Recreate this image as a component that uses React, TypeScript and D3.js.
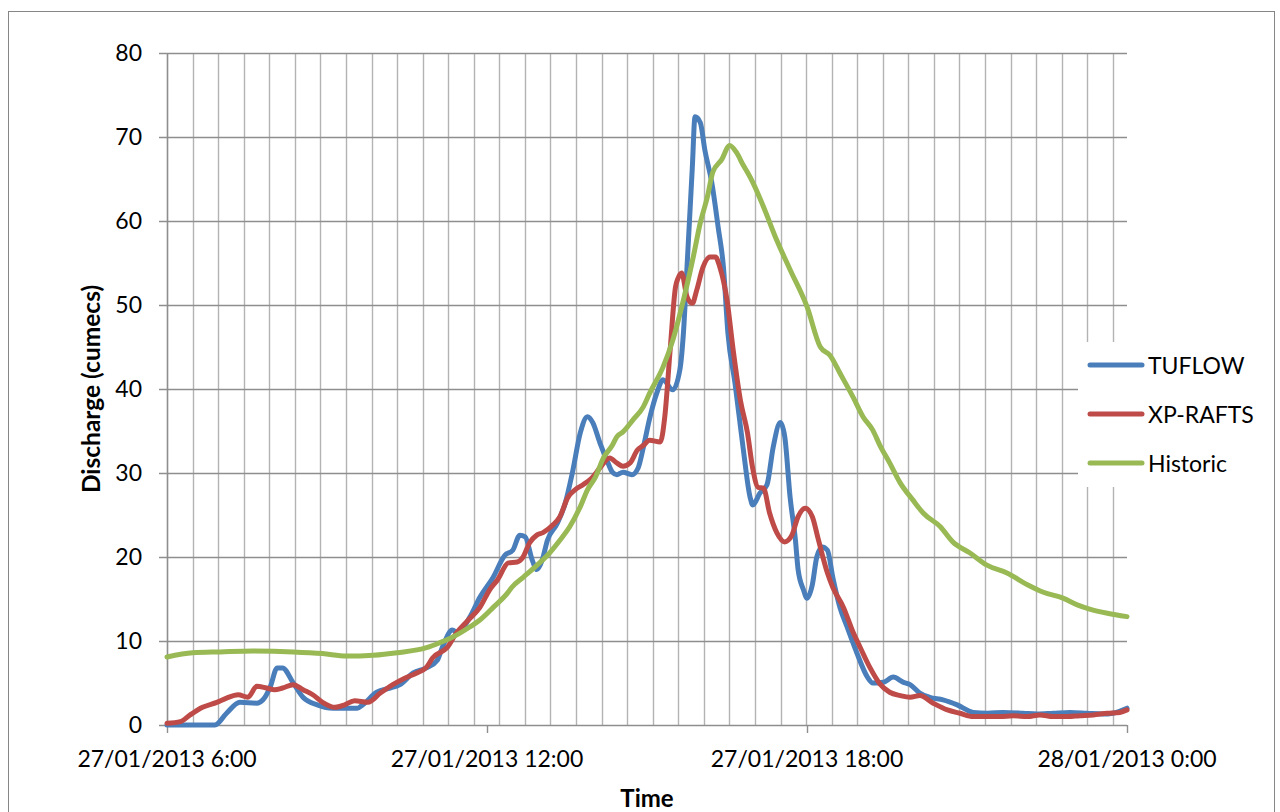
import { useEffect, useRef } from 'react';
import * as d3 from 'd3';

// minutes after 27/01/2013 6:00, discharge (cumecs)
const tuflow: [number, number][] = [
  [0, 0], [54, 0], [67, 1.4], [82, 2.7], [101, 2.6], [108, 3.0], [116, 4.5], [124, 6.8], [130, 6.8],
  [142, 5.0], [153, 3.3], [169, 2.4], [187, 2.0], [214, 2.0], [220, 2.4], [236, 3.9], [251, 4.4],
  [262, 4.8], [277, 6.2], [292, 6.8], [304, 7.7], [310, 9.3], [321, 11.3], [327, 11.0], [341, 12.9],
  [352, 15.2], [367, 17.6], [380, 20.2], [389, 20.8], [397, 22.6], [403, 22.4], [411, 19.6], [416, 18.5],
  [422, 19.6], [428, 22.0], [439, 24.0], [448, 26.4], [456, 30.0], [465, 34.8], [473, 36.7], [479, 36.0],
  [487, 33.6], [495, 31.5], [501, 30.1], [506, 29.8], [513, 30.1], [523, 29.8], [530, 30.6], [536, 33.1],
  [543, 36.5], [551, 39.5], [558, 41.1], [569, 39.9], [577, 42.3], [581, 46.7], [585, 54.5], [591, 66.4],
  [594, 72.4], [600, 71.7], [605, 68.5], [613, 64.5], [620, 59.3], [626, 54.5], [631, 46.7], [639, 40.7],
  [648, 33.1], [656, 27.1], [659, 26.2], [667, 27.6], [675, 28.6], [682, 33.1], [690, 36.0], [695, 34.3],
  [701, 27.1], [707, 22.0], [710, 18.5], [716, 16.1], [720, 15.1], [726, 16.7], [731, 20.0], [737, 21.2],
  [743, 20.8], [749, 17.6], [757, 14.0], [765, 11.7], [776, 8.6], [788, 5.7], [794, 5.0], [806, 5.1],
  [817, 5.7], [828, 5.1], [836, 4.8], [847, 3.8], [858, 3.3], [873, 3.0], [889, 2.4], [907, 1.5],
  [923, 1.4], [941, 1.5], [963, 1.4], [979, 1.3], [997, 1.4], [1016, 1.5], [1035, 1.4], [1053, 1.3],
  [1064, 1.4], [1080, 2.0],
];

const xpRafts: [number, number][] = [
  [0, 0.2], [15, 0.4], [26, 1.2], [40, 2.1], [56, 2.7], [67, 3.2], [80, 3.6], [91, 3.3], [101, 4.6],
  [112, 4.4], [121, 4.2], [130, 4.4], [142, 4.8], [153, 4.2], [164, 3.6], [175, 2.7], [189, 2.1],
  [200, 2.4], [211, 2.9], [226, 2.7], [240, 3.8], [254, 4.8], [268, 5.6], [281, 6.2], [292, 6.9],
  [299, 8.0], [315, 9.2], [326, 11.0], [339, 12.5], [352, 14.0], [363, 16.1], [372, 17.3], [384, 19.3],
  [394, 19.4], [400, 19.9], [408, 21.7], [416, 22.6], [423, 22.9], [434, 23.8], [442, 24.8], [451, 27.1],
  [459, 28.0], [468, 28.6], [478, 29.4], [487, 30.6], [498, 31.8], [506, 31.2], [513, 30.8], [521, 31.2],
  [529, 32.7], [536, 33.3], [543, 33.9], [555, 33.7], [560, 36.7], [566, 44.6], [572, 52.1], [575, 53.2],
  [579, 53.8], [585, 51.0], [591, 50.2], [596, 51.8], [603, 54.5], [611, 55.7], [617, 55.7], [622, 54.5],
  [630, 50.6], [637, 44.6], [645, 38.7], [653, 34.8], [659, 30.5], [665, 28.3], [671, 28.2], [678, 25.2],
  [686, 22.9], [695, 21.8], [703, 22.6], [710, 24.8], [718, 25.8], [726, 24.8], [732, 22.4], [743, 18.1],
  [749, 16.4], [761, 14.0], [772, 11.0], [780, 9.2], [791, 6.8], [802, 4.9], [813, 3.9], [825, 3.5],
  [836, 3.3], [847, 3.5], [862, 2.6], [878, 1.8], [892, 1.4], [907, 1.0], [923, 1.0], [937, 1.0],
  [952, 1.1], [968, 1.0], [982, 1.2], [997, 1.0], [1013, 1.0], [1027, 1.1], [1042, 1.2], [1058, 1.4],
  [1072, 1.5], [1080, 1.8],
];

const historic: [number, number][] = [
  [0, 8.1], [29, 8.6], [60, 8.7], [97, 8.8], [142, 8.7], [175, 8.5], [202, 8.2], [232, 8.3], [259, 8.6],
  [292, 9.2], [307, 9.8], [322, 10.5], [341, 11.7], [352, 12.5], [367, 14.0], [383, 15.7], [388, 16.4],
  [401, 17.6], [416, 19.0], [428, 20.2], [442, 22.0], [453, 23.6], [465, 26.0], [473, 28.0], [482, 29.5],
  [491, 31.8], [501, 33.3], [506, 34.3], [513, 34.9], [524, 36.3], [536, 37.9], [543, 39.5], [558, 42.6],
  [569, 45.8], [581, 50.6], [592, 55.7], [600, 59.8], [608, 62.9], [614, 65.8], [624, 67.3], [633, 69.0],
  [641, 68.1], [648, 66.7], [653, 65.8], [659, 64.6], [671, 61.7], [686, 57.7], [701, 54.2], [720, 49.8],
  [735, 45.0], [746, 44.0], [757, 41.9], [772, 39.0], [783, 36.7], [794, 35.1], [802, 33.3], [813, 31.2],
  [825, 28.8], [839, 26.8], [851, 25.2], [870, 23.6], [884, 21.8], [903, 20.5], [923, 19.0], [945, 18.1],
  [968, 16.7], [986, 15.8], [1008, 15.1], [1024, 14.3], [1038, 13.8], [1058, 13.3], [1080, 12.9],
];

const seriesNames = ['TUFLOW', 'XP-RAFTS', 'Historic'];
const seriesColors = ['#4a7ebb', '#be4b48', '#98b954'];
const xTickLabels = ['27/01/2013 6:00', '27/01/2013 12:00', '27/01/2013 18:00', '28/01/2013 0:00'];
const yTicks = [0, 10, 20, 30, 40, 50, 60, 70, 80];

const FONT = 'Lato, "Open Sans", sans-serif';

export default function App() {
  const svgRef = useRef<SVGSVGElement>(null);

  useEffect(() => {
    if (!svgRef.current) return;
    const svg = d3.select(svgRef.current);
    svg.selectAll('*').remove();

    const start = new Date(2013, 0, 27, 6, 0);
    const end = new Date(2013, 0, 28, 0, 0);
    const toDate = (m: number) => new Date(start.getTime() + m * 60000);

    const plot = { left: 167, right: 1127, top: 53, bottom: 725 };
    const x = d3.scaleTime().domain([start, end]).range([plot.left, plot.right]);
    const y = d3.scaleLinear().domain([0, 80]).range([plot.bottom, plot.top]);

    // chart frame
    svg.append('rect')
      .attr('x', 8.5).attr('y', 11.5)
      .attr('width', 1266).attr('height', 820)
      .attr('fill', '#fff').attr('stroke', '#868686').attr('stroke-width', 1);

    // vertical gridlines (Excel category spacing, ~28.76 min)
    const gridStep = 28.76;
    const gridMins = d3.range(0, 1080 - 5, gridStep);
    svg.append('g').selectAll('line').data(gridMins).join('line')
      .attr('x1', d => Math.round(x(toDate(d))) + 0.5)
      .attr('x2', d => Math.round(x(toDate(d))) + 0.5)
      .attr('y1', plot.top).attr('y2', plot.bottom)
      .attr('stroke', '#b3b3b3').attr('stroke-width', 1.4);

    // horizontal gridlines + ticks
    svg.append('g').selectAll('line').data(yTicks).join('line')
      .attr('x1', plot.left - 8).attr('x2', plot.right)
      .attr('y1', d => Math.round(y(d)) + 0.5).attr('y2', d => Math.round(y(d)) + 0.5)
      .attr('stroke', '#8e8e8e').attr('stroke-width', 1.4);

    // y axis line
    svg.append('line')
      .attr('x1', plot.left + 0.5).attr('x2', plot.left + 0.5)
      .attr('y1', plot.top).attr('y2', plot.bottom)
      .attr('stroke', '#8e8e8e').attr('stroke-width', 1.4);

    // y tick labels
    svg.append('g').selectAll('text').data(yTicks).join('text')
      .attr('x', 142).attr('y', d => y(d) + 8)
      .attr('text-anchor', 'end')
      .attr('font-family', FONT).attr('font-size', 23).attr('fill', '#000')
      .text(d => d);

    // x axis ticks and labels
    const xTicks = d3.range(0, 4).map(i => d3.timeHour.offset(start, i * 6));
    svg.append('g').selectAll('line').data(xTicks).join('line')
      .attr('x1', d => Math.round(x(d)) + 0.5).attr('x2', d => Math.round(x(d)) + 0.5)
      .attr('y1', plot.bottom).attr('y2', plot.bottom + 8)
      .attr('stroke', '#8e8e8e').attr('stroke-width', 1.4);

    svg.append('g').selectAll('text').data(xTicks).join('text')
      .attr('x', d => x(d)).attr('y', 767)
      .attr('text-anchor', 'middle')
      .attr('font-family', FONT).attr('font-size', 23).attr('fill', '#000')
      .text((d, i) => xTickLabels[i]);

    // axis titles
    svg.append('text')
      .attr('transform', `translate(100, ${(plot.top + plot.bottom) / 2}) rotate(-90)`)
      .attr('text-anchor', 'middle')
      .attr('font-family', FONT).attr('font-size', 24.5).attr('font-weight', 'bold')
      .text('Discharge (cumecs)');

    svg.append('text')
      .attr('x', 647).attr('y', 807)
      .attr('text-anchor', 'middle')
      .attr('font-family', FONT).attr('font-size', 24).attr('font-weight', 'bold')
      .text('Time');

    // series
    const line = d3.line<[number, number]>()
      .x(d => x(toDate(d[0])))
      .y(d => y(d[1]))
      .curve(d3.curveMonotoneX);

    const allSeries = [tuflow, xpRafts, historic];
    allSeries.forEach((s, i) => {
      svg.append('path')
        .datum(s)
        .attr('d', line)
        .attr('fill', 'none')
        .attr('stroke', seriesColors[i])
        .attr('stroke-width', 5)
        .attr('stroke-linejoin', 'round')
        .attr('stroke-linecap', 'round');
    });

    // legend
    const lg = svg.append('g');
    lg.append('rect')
      .attr('x', 1078).attr('y', 342).attr('width', 186).attr('height', 145)
      .attr('fill', '#fff');
    seriesNames.forEach((name, i) => {
      const ly = 365 + i * 49;
      lg.append('line')
        .attr('x1', 1090).attr('x2', 1142)
        .attr('y1', ly).attr('y2', ly)
        .attr('stroke', seriesColors[i]).attr('stroke-width', 5)
        .attr('stroke-linecap', 'round');
      lg.append('text')
        .attr('x', 1148).attr('y', ly + 9)
        .attr('font-family', FONT).attr('font-size', 23).attr('fill', '#000')
        .text(name);
    });
  }, []);

  return (
    <div style={{ position: 'absolute', left: 0, top: 0, width: 1280, height: 812, overflow: 'hidden', background: '#fff' }}>
      <svg ref={svgRef} width={1280} height={812} style={{ display: 'block' }} />
    </div>
  );
}
